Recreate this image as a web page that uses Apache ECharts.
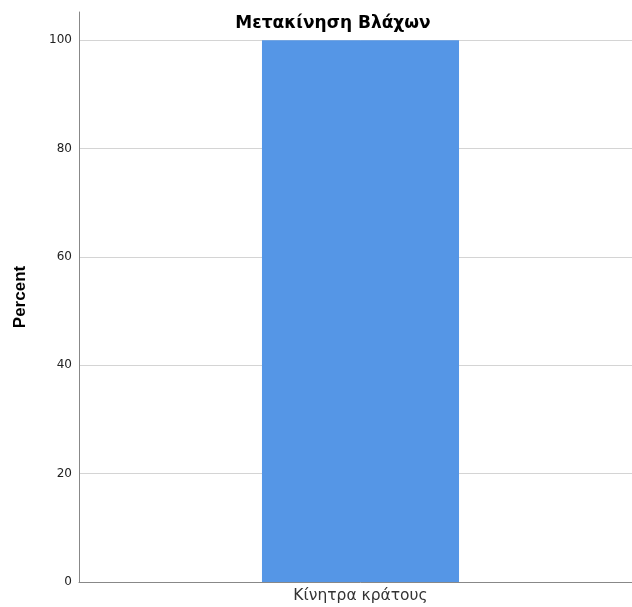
<!DOCTYPE html>
<html><head><meta charset="utf-8">
<script src="https://cdn.jsdelivr.net/npm/echarts@6/dist/echarts.min.js"></script>
<style>html,body{margin:0;padding:0;background:#fff;overflow:hidden;width:632px;height:607px}#c{width:642px;height:607px}</style>
</head><body><div id="c"></div>
<script>
const categories = ["Κίνητρα κράτους"];
const percentValues = [100];
const yTicks = [0, 20, 40, 60, 80, 100];
const chartTitle = "Μετακίνηση Βλάχων";
const yAxisTitle = "Percent";

const chart = echarts.init(document.getElementById('c'), null, {renderer: 'canvas'});
chart.setOption({
  animation: false,
  backgroundColor: '#ffffff',
  title: {
    text: chartTitle, left: 328, top: 10, textAlign: 'center',
    textStyle: {fontFamily: 'DejaVu Sans', fontWeight: 'bold', fontSize: 17, color: '#000'}
  },
  grid: {left: 79, right: 0, top: 12, bottom: 25, containLabel: false},
  xAxis: {
    type: 'category', data: categories,
    axisLine: {show: true, lineStyle: {color: '#888', width: 1}},
    axisTick: {show: false},
    axisLabel: {fontFamily: 'DejaVu Sans', fontSize: 15.5, color: '#333', margin: 6}
  },
  yAxis: {
    type: 'value', min: 0, max: 105.2, interval: 20,
    name: yAxisTitle, nameLocation: 'middle', nameGap: 50, nameRotate: 90,
    nameTextStyle: {fontFamily: 'Liberation Sans', fontWeight: 'bold', fontSize: 17, color: '#000'},
    axisLine: {show: true, lineStyle: {color: '#888', width: 1}},
    axisTick: {show: false},
    axisLabel: {
      fontFamily: 'DejaVu Sans', fontSize: 12, color: '#222', margin: 7,
      showMaxLabel: false,
      formatter: v => (yTicks.indexOf(v) >= 0 ? String(v) : '')
    },
    splitLine: {show: true, showMaxLine: false, lineStyle: {color: '#d4d4d4', width: 1}}
  },
  series: [{
    type: 'bar', data: percentValues, barWidth: '35%',
    itemStyle: {color: '#5596e6'}
  }]
});
</script></body></html>
